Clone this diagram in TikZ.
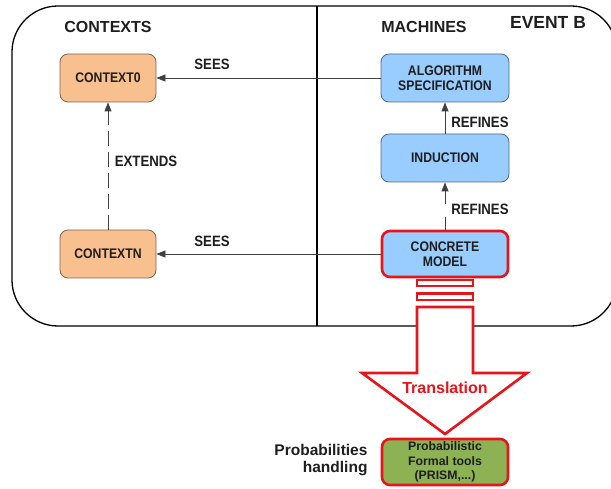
\documentclass[tikz,border=0pt]{standalone}
\usepackage{fontspec}
\setmainfont{Liberation Sans}
\newfontfamily\narrowfont{Liberation Sans}[FakeStretch=0.88]
\usetikzlibrary{arrows.meta}
\definecolor{peach}{HTML}{F9C08F}
\definecolor{peachline}{HTML}{7A6550}
\definecolor{skyb}{HTML}{99CCFF}
\definecolor{skybline}{HTML}{4A6A8A}
\definecolor{olive}{HTML}{8DB253}
\definecolor{redd}{HTML}{E8141B}
\definecolor{txt}{HTML}{1E1E1E}
\definecolor{conn}{HTML}{404040}
\tikzset{
  boxtext/.style={font=\narrowfont\bfseries\fontsize{13.9}{14.5}\selectfont, text=txt, align=center},
  ctxbox/.style={boxtext, draw=peachline, fill=peach, line width=0.8pt, rounded corners=8pt, minimum width=96pt, minimum height=48pt, inner sep=0pt},
  macbox/.style={boxtext, draw=skybline, fill=skyb, line width=0.8pt, rounded corners=8pt, minimum width=128pt, minimum height=48pt, inner sep=0pt},
  redbox/.style={line width=2.6pt, draw=redd, rounded corners=8pt, minimum width=126pt, minimum height=46pt, inner sep=0pt},
  heading/.style={font=\bfseries\fontsize{16}{18}\selectfont, text=txt},
  lbl/.style={font=\narrowfont\bfseries\fontsize{15}{17}\selectfont, text=txt},
  arr/.style={draw=conn, line width=0.8pt, -{Triangle[length=9pt,width=7pt]}},
  redline/.style={draw=redd, line width=2.6pt, fill=white}
}
\begin{document}
\begin{tikzpicture}[x=1pt,y=-1pt]
\useasboundingbox (0,0) rectangle (611,489);
% frame
\draw[line width=1.3pt, rounded corners=46pt] (12,6) rectangle (617,326);
\draw[line width=1.2pt] (317,6) -- (317,326);
% headings
\node[heading] (hctx) at (108,27) {CONTEXTS};
\node[heading] (hmac) at (424,27) {MACHINES};
\node[font=\bfseries\fontsize{17.5}{19}\selectfont, text=txt] (hevb) at (548,22) {EVENT B};
% nodes
\node[ctxbox] (ctx0) at (108,78) {CONTEXT0};
\node[ctxbox] (ctxn) at (108,254) {CONTEXTN};
\node[macbox] (algo) at (445,78) {ALGORITHM\\SPECIFICATION};
\node[macbox] (ind) at (445,158) {INDUCTION};
\node[macbox, redbox] (conc) at (445,254) {CONCRETE\\MODEL};
% connectors
\draw[arr] (algo.west) -- (ctx0.east);
\draw[arr] (conc.west) -- (ctxn.east);
\draw[arr] (ind.north) -- (algo.south);
\draw[arr, dash pattern=on 13pt off 13pt] (conc.north) -- (ind.south);
\draw[arr, dash pattern=on 15pt off 6pt] (ctxn.north) -- (ctx0.south);
% labels
\node[lbl] (sees1) at (212,64) {SEES};
\node[lbl] (sees2) at (212,241) {SEES};
\node[lbl] (ref1) at (480,122) {REFINES};
\node[lbl] (ref2) at (480,209) {REFINES};
\node[lbl] (ext) at (146,161) {EXTENDS};
% red stacked bars and translation arrow
\draw[redline, line width=2.4pt] (417,280) rectangle (473,286);
\draw[redline, line width=2.4pt] (417,293.5) rectangle (473,300);
\draw[redline, line join=miter] (417,307) -- (417,373) -- (362,373) -- (445,434) -- (527,373) -- (473,373) -- (473,307) -- cycle;
\node[font=\bfseries\fontsize{16}{18}\selectfont, text=redd] (trans) at (445,388) {Translation};
% tool box
\node[redbox, fill=olive, font=\bfseries\fontsize{12.3}{14.5}\selectfont, text=txt, align=center] (tool) at (445,462) {Probabilistic\\Formal tools\\(PRISM,...)};
\node[anchor=east, align=right, font=\bfseries\fontsize{15.5}{17.5}\selectfont, text=txt] (prob) at (371,460) {Probabilities\\handling};
\end{tikzpicture}
\end{document}
